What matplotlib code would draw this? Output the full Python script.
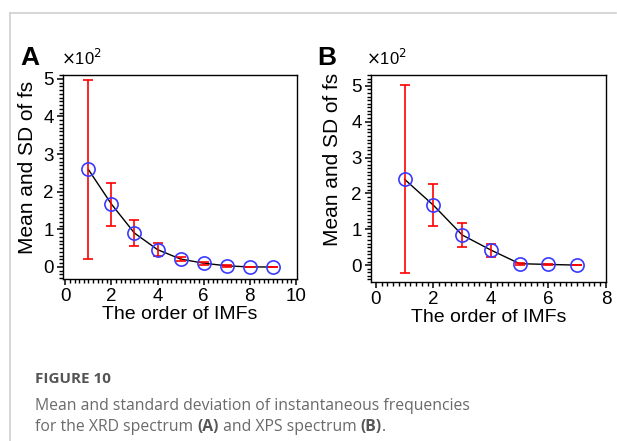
import matplotlib
matplotlib.use("Agg")
from matplotlib import pyplot as plt
from matplotlib.ticker import MultipleLocator
from matplotlib.lines import Line2D

# panel A (XRD spectrum), values in units of 10^2
imf_a = [1, 2, 3, 4, 5, 6, 7, 8, 9]
mean_a = [2.59, 1.67, 0.90, 0.46, 0.21, 0.10, 0.03, 0.00, 0.00]
sd_a = [2.38, 0.57, 0.34, 0.17, 0.06, 0.04, 0.02, 0.01, 0.01]

# panel B (XPS spectrum)
imf_b = [1, 2, 3, 4, 5, 6, 7]
mean_b = [2.39, 1.67, 0.84, 0.42, 0.04, 0.02, 0.00]
sd_b = [2.62, 0.58, 0.34, 0.18, 0.03, 0.02, 0.01]

plt.rcParams['font.family'] = ['Liberation Sans', 'DejaVu Sans']

fig = plt.figure(figsize=(6.17, 4.41), dpi=100)
W, H = 617.0, 441.0

def px_axes(left, top, right, bottom):
    return fig.add_axes([left / W, 1 - bottom / H, (right - left) / W, (bottom - top) / H])

def panel(ax, x, m, s, xlim, ylim, xmax_tick, ylab_pos):
    ax.plot(x, m, color='black', lw=1.0, zorder=2)
    ax.errorbar(x, m, yerr=s, fmt='none', ecolor='red', elinewidth=1.2,
                capsize=3.5, capthick=1.2, zorder=3)
    ax.plot(x, m, 'o', ms=9.5, mfc='none', mec='#3a3aff', mew=1.2, zorder=4)
    ax.set_xlim(*xlim)
    ax.set_ylim(*ylim)
    ax.set_xticks(range(0, xmax_tick + 1, 2))
    ax.set_yticks(range(0, 6))
    ax.xaxis.set_minor_locator(MultipleLocator(0.2))
    ax.yaxis.set_minor_locator(MultipleLocator(0.1))
    ax.tick_params(which='major', direction='out', length=4.5, width=1.1,
                   labelsize=13.5, pad=2, top=False, right=False)
    ax.tick_params(which='minor', direction='out', length=2.8, width=1.0,
                   top=False, right=False)
    for sp in ax.spines.values():
        sp.set_linewidth(1.0)
    ax.set_xlabel('The order of IMFs', fontsize=14, labelpad=1)
    ax.set_ylabel('Mean and SD of fs', fontsize=15)
    ax.yaxis.set_label_coords(*ylab_pos)

ax1 = px_axes(63, 75, 297, 279)
panel(ax1, imf_a, mean_a, sd_a, (-0.1, 10.05), (-0.32, 5.1), 10, (-0.11, 0.545))

ax2 = px_axes(371, 75, 606, 282)
panel(ax2, imf_b, mean_b, sd_b, (-0.17, 8.0), (-0.47, 5.3), 8, (-0.125, 0.59))

# panel letters and multipliers
fig.text(20 / W, 1 - 65 / H, 'A', fontsize=19, fontweight='bold', va='baseline')
fig.text(61 / W, 1 - 65 / H, r'$\times$10$^2$', fontsize=12, va='baseline')
fig.text(317 / W, 1 - 65 / H, 'B', fontsize=19, fontweight='bold', va='baseline')
fig.text(366 / W, 1 - 65 / H, r'$\times$10$^2$', fontsize=12, va='baseline')

# frame lines
fig.add_artist(Line2D([10 / W, 10 / W], [0, 1 - 13 / H], color='#d0d0d0', lw=1.2))
fig.add_artist(Line2D([10 / W, 616 / W], [1 - 13 / H, 1 - 13 / H], color='#d0d0d0', lw=1.2))

# caption
cap = ['Open Sans', 'DejaVu Sans']
fig.text(35 / W, 1 - 383 / H, 'FIGURE 10', fontsize=11, fontweight='bold',
         color='#555555', family=cap, va='baseline')
fig.text(35 / W, 1 - 410 / H, 'Mean and standard deviation of instantaneous frequencies',
         fontsize=11.3, color='#6a6a6a', family=cap, va='baseline')
t = fig.text(35 / W, 1 - 431 / H, 'for the XRD spectrum ', fontsize=11.3, color='#6a6a6a',
             family=cap, va='baseline')
fig.canvas.draw()
r = fig.canvas.get_renderer()
parts = [('(A)', 'bold'), (' and XPS spectrum ', 'normal'), ('(B)', 'bold'), ('.', 'normal')]
x0 = t.get_window_extent(r).x1
for s, w in parts:
    tt = fig.text(x0 / W, 1 - 431 / H, s, fontsize=11.3,
                  color='#6a6a6a' if w == 'normal' else '#555555',
                  family=cap, fontweight=w, va='baseline')
    x0 = tt.get_window_extent(r).x1

fig.savefig('out.png', dpi=100)
